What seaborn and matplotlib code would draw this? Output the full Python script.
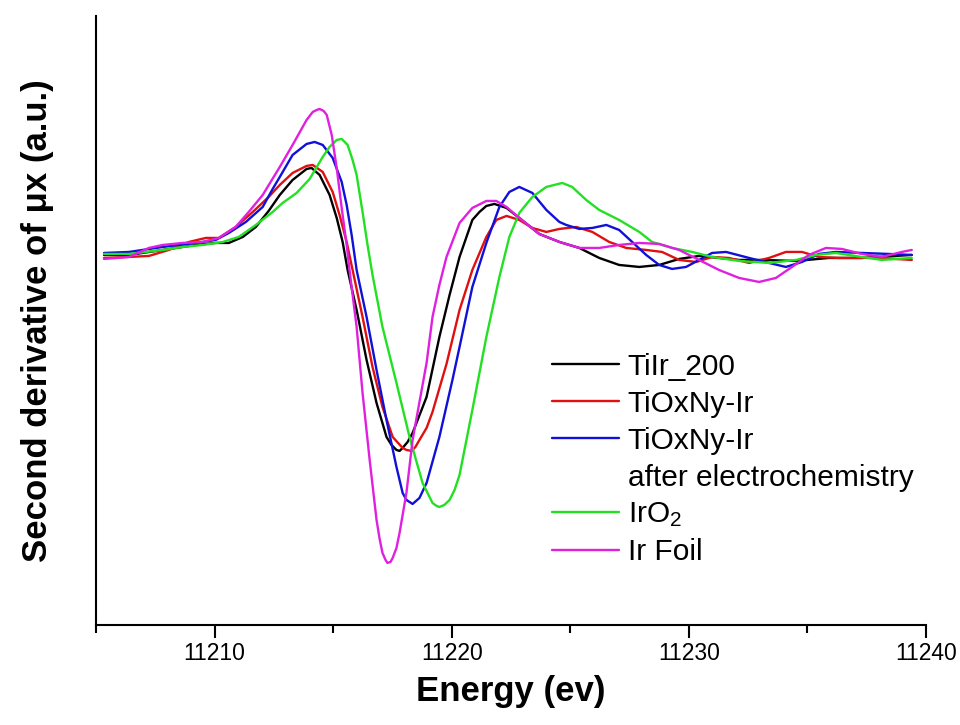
import numpy as np
import pandas as pd
import matplotlib
matplotlib.use('Agg')
import matplotlib.pyplot as plt
from matplotlib.lines import Line2D
from matplotlib.ticker import MultipleLocator
import seaborn as sns

# energy (eV) / second derivative (a.u.)
black_energy = [11205.34, 11206.39, 11207.82, 11209.21, 11210.05, 11210.60, 11211.19, 11211.74, 11212.28, 11212.75,
                11213.29, 11213.88, 11214.09, 11214.43, 11214.85, 11215.15, 11215.40, 11215.61, 11215.99, 11216.41,
                11216.83, 11217.25, 11217.46, 11217.67, 11217.80, 11217.93, 11218.14, 11218.35, 11218.94, 11219.48,
                11219.91, 11220.33, 11220.87, 11221.17, 11221.46, 11221.80, 11222.31, 11222.85, 11223.69, 11224.54,
                11225.38, 11226.22, 11227.06, 11227.91, 11228.75, 11229.59, 11230.43, 11231.27, 11232.12, 11233.08,
                11234.52, 11235.91, 11237.29, 11239.40]
black_signal = [2, 2, 7, 12, 14, 14, 20, 30, 46, 62,
                77, 88, 89, 82, 62, 39, 15, -13, -53, -103,
                -146, -180, -188, -193, -194, -191, -185, -176, -140, -80,
                -38, 0, 37, 45, 51, 53, 49, 39, 23, 15,
                9, -1, -8, -10, -8, -2, 1, -1, -3, -3,
                -4, -1, -1, 2]

red_energy = [11205.34, 11206.39, 11207.23, 11208.07, 11208.92, 11209.63, 11210.18, 11210.89, 11211.61, 11212.28,
              11212.75, 11213.29, 11213.88, 11214.14, 11214.56, 11214.98, 11215.27, 11215.57, 11215.82, 11216.24,
              11216.66, 11217.08, 11217.51, 11217.93, 11218.09, 11218.31, 11218.47, 11218.64, 11218.94, 11219.19,
              11219.78, 11220.33, 11220.87, 11221.46, 11221.88, 11222.31, 11222.85, 11223.40, 11223.99, 11224.54,
              11225.25, 11225.93, 11226.64, 11227.36, 11228.20, 11228.87, 11229.59, 11230.31, 11230.98, 11231.69,
              11232.54, 11233.38, 11234.09, 11234.77, 11235.48, 11236.33, 11238.01, 11239.40]
red_signal = [-1, 0, 1, 7, 15, 19, 19, 30, 45, 60,
              72, 84, 91, 92, 85, 65, 42, 15, -13, -60,
              -110, -150, -180, -191, -193, -194, -190, -183, -171, -155,
              -107, -53, -13, 20, 37, 41, 37, 29, 25, 28,
              30, 25, 15, 9, 7, 5, -3, -5, 0, -1,
              -6, -1, 5, 5, 0, -1, -1, -3]

blue_energy = [11205.34, 11206.39, 11207.82, 11209.21, 11210.05, 11210.60, 11211.32, 11212.03, 11212.45, 11212.75,
               11213.29, 11213.88, 11214.22, 11214.56, 11214.98, 11215.36, 11215.57, 11215.78, 11215.99, 11216.41,
               11216.83, 11217.25, 11217.67, 11217.93, 11218.09, 11218.35, 11218.64, 11218.94, 11219.48, 11220.03,
               11220.33, 11220.87, 11221.46, 11222.01, 11222.43, 11222.85, 11223.40, 11223.99, 11224.54, 11224.83,
               11225.38, 11225.93, 11226.52, 11227.06, 11227.61, 11228.20, 11228.75, 11229.29, 11229.88, 11230.43,
               11230.98, 11231.57, 11232.54, 11233.38, 11234.09, 11234.77, 11235.48, 11236.20, 11237.29, 11238.43,
               11239.40]
blue_signal = [4, 5, 10, 14, 17, 24, 35, 50, 68, 80,
               102, 113, 115, 112, 99, 75, 52, 22, -13, -60,
               -113, -163, -210, -236, -243, -247, -241, -226, -180, -123,
               -90, -30, 14, 50, 65, 70, 64, 47, 35, 32,
               28, 29, 32, 27, 15, 2, -8, -12, -10, -3,
               4, 5, -1, -6, -10, -5, 3, 5, 4, 3,
               2]

green_energy = [11205.34, 11206.39, 11207.82, 11208.66, 11209.51, 11210.35, 11211.02, 11211.74, 11212.45, 11212.87,
                11213.46, 11214.01, 11214.56, 11214.85, 11215.15, 11215.36, 11215.61, 11215.82, 11215.99, 11216.24,
                11216.45, 11216.66, 11217.08, 11217.67, 11218.22, 11218.77, 11219.19, 11219.36, 11219.48, 11219.69,
                11219.91, 11220.12, 11220.33, 11220.87, 11221.46, 11222.01, 11222.43, 11222.85, 11223.40, 11223.99,
                11224.66, 11225.08, 11225.67, 11226.22, 11227.06, 11227.91, 11228.45, 11229.29, 11230.14, 11230.98,
                11232.12, 11233.38, 11234.52, 11235.36, 11236.20, 11237.29, 11238.14, 11239.40]
green_signal = [3, 3, 7, 10, 12, 15, 20, 32, 45, 54,
                64, 78, 100, 110, 117, 118, 112, 97, 82, 45,
                12, -18, -70, -126, -180, -226, -246, -249, -250, -248,
                -243, -233, -218, -153, -80, -20, 20, 44, 60, 70,
                74, 70, 57, 47, 37, 25, 15, 9, 5, 0,
                -4, -6, -3, 2, 4, 0, -3, -1]

pink_energy = [11205.34, 11206.39, 11207.23, 11207.82, 11208.66, 11209.51, 11210.18, 11210.89, 11211.44, 11212.03,
               11212.75, 11213.29, 11213.88, 11214.14, 11214.31, 11214.43, 11214.60, 11214.73, 11214.94, 11215.15,
               11215.36, 11215.57, 11215.69, 11215.99, 11216.24, 11216.54, 11216.83, 11216.96, 11217.08, 11217.21,
               11217.29, 11217.42, 11217.51, 11217.67, 11217.80, 11218.09, 11218.35, 11218.64, 11218.94, 11219.19,
               11219.48, 11219.78, 11220.33, 11220.87, 11221.46, 11221.88, 11222.31, 11222.85, 11223.69, 11224.54,
               11225.38, 11226.22, 11227.06, 11227.91, 11228.75, 11229.59, 11230.43, 11231.27, 11232.12, 11232.96,
               11233.67, 11234.35, 11235.06, 11235.78, 11236.45, 11237.29, 11238.14, 11238.98, 11239.40]
pink_signal = [-2, 0, 9, 12, 14, 15, 19, 30, 45, 62,
               90, 112, 137, 145, 147, 148, 146, 142, 122, 89,
               49, 12, -13, -70, -136, -203, -263, -282, -296, -303,
               -306, -305, -301, -291, -276, -236, -183, -145, -106, -60,
               -28, 0, 34, 49, 56, 56, 50, 39, 23, 15,
               9, 9, 12, 14, 13, 7, -3, -13, -21, -25,
               -21, -10, 2, 9, 8, 3, 0, 5, 7]

labels = ['TiIr_200', 'TiOxNy-Ir', 'TiOxNy-Ir', 'IrO$_2$', 'Ir Foil']
colors = ['#000000', '#e01010', '#1010d8', '#22e022', '#e020e0']

sns.set_style('ticks')
plt.rcParams['font.family'] = ['Liberation Sans', 'DejaVu Sans']
plt.rcParams['mathtext.fontset'] = 'custom'
plt.rcParams['mathtext.rm'] = 'Liberation Sans'
plt.rcParams['mathtext.it'] = 'Liberation Sans:italic'
plt.rcParams['text.color'] = 'black'
plt.rcParams['axes.labelcolor'] = 'black'
plt.rcParams['xtick.color'] = 'black'

fig = plt.figure(figsize=(9.6, 7.25), dpi=100)
ax = fig.add_axes([0.1, 0.138, 0.8646, 0.84])

series = [(black_energy, black_signal), (red_energy, red_signal), (blue_energy, blue_signal),
          (green_energy, green_signal), (pink_energy, pink_signal)]
for (e, s), c in zip(series, colors):
    sns.lineplot(x=e, y=s, color=c, lw=1.7, ax=ax, legend=False)

ax.set_xlim(11205, 11240)
ax.set_ylim(-368, 241)
ax.xaxis.set_major_locator(MultipleLocator(10))
ax.xaxis.set_minor_locator(MultipleLocator(5))
ax.set_yticks([])
ax.tick_params(axis='x', which='major', length=9, width=1.5, labelsize=16.5, direction='out', colors='black')
ax.tick_params(axis='x', which='minor', length=5.5, width=1.5, direction='out', colors='black')
sns.despine(ax=ax)
for sp in ['left', 'bottom']:
    ax.spines[sp].set_linewidth(1.5)
    ax.spines[sp].set_color('black')

ax.set_xlabel('Energy (ev)', fontsize=25, fontweight='bold', labelpad=7)
ax.set_ylabel('Second derivative of μx (a.u.)', fontsize=25, fontweight='bold', labelpad=30)

# legend: second TiOxNy-Ir entry wraps onto a row with no line
handles = [Line2D([], [], color=colors[0], lw=1.7),
           Line2D([], [], color=colors[1], lw=1.7),
           Line2D([], [], color=colors[2], lw=1.7),
           Line2D([], [], color='none'),
           Line2D([], [], color=colors[3], lw=1.7),
           Line2D([], [], color=colors[4], lw=1.7)]
leg_labels = [labels[0], labels[1], labels[2], 'after electrochemistry', labels[3], labels[4]]
ax.legend(handles, leg_labels, loc='upper left', bbox_to_anchor=(0.549, 0.447), frameon=False,
          fontsize=21.5, handlelength=2.25, handletextpad=0.3, labelspacing=0.3, borderaxespad=0, borderpad=0)

fig.savefig('out.png', dpi=100)
